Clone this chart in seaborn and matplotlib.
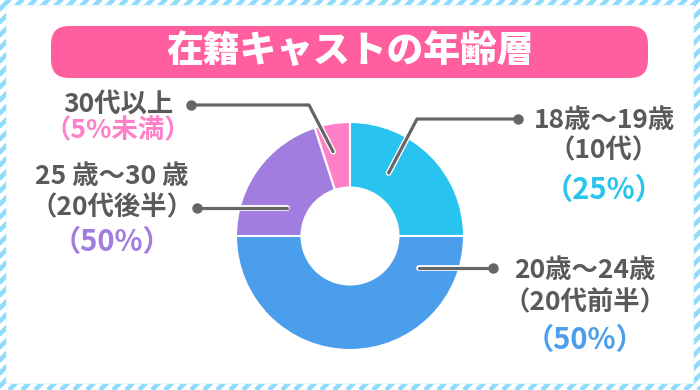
import matplotlib
matplotlib.use("Agg")
import matplotlib.pyplot as plt
import matplotlib.patheffects as pe
from matplotlib.patches import FancyBboxPatch, Rectangle
import numpy as np
import seaborn as sns

# ---- data ----
title = "在籍キャストの年齢層"
age_groups = ["18歳～19歳", "20歳～24歳", "25 歳～30 歳", "30代以上"]
sub_labels = ["（10代）", "（20代前半）", "（20代後半）", ""]
pct_labels = ["（25%）", "（50%）", "（50%）", "（5%未満）"]
shares = [25, 50, 20, 5]
colors = ["#29c3ef", "#4a9eec", "#a07ddf", "#ff80c8"]

sns.set_theme(style="white")
plt.rcParams["font.family"] = ["Noto Sans CJK JP", "DejaVu Sans"]

W, H = 700, 390
fig = plt.figure(figsize=(7, 3.9), dpi=100)
ax = fig.add_axes([0, 0, 1, 1])

# striped border background
stripe_col = "#8fdbfb"
ax.add_patch(Rectangle((0, 0), W, H, facecolor="white", edgecolor="none", zorder=0))
for c in np.arange(-420, 720, 13):
    ax.plot([c, c + 420], [0, 420], color=stripe_col, lw=3.3, solid_capstyle="butt", zorder=1)
ax.add_patch(Rectangle((6, 7), 687, 378, facecolor="white", edgecolor="#e8f6fd", lw=0.8, zorder=2))

# title banner
ax.add_patch(FancyBboxPatch((51 + 18, 312 + 18), 597 - 36, 52 - 36,
                            boxstyle="round,pad=18", facecolor="#ff5f9e",
                            edgecolor="none", zorder=3))
ax.text(350, 338, title, ha="center", va="center", fontsize=26.5, fontweight="heavy",
        color="white", zorder=4)

# donut
cx, cy, R, r_in = 350, 154, 114, 48.5
wedges, _ = ax.pie(shares, colors=colors, startangle=90, counterclock=False,
                   center=(cx, cy), radius=R,
                   wedgeprops=dict(width=R - r_in, edgecolor="white", linewidth=1.5),
                   frame=True)
for w in wedges:
    w.set_zorder(5)

# leader lines: anchor position inside each wedge (fraction of span, radius), elbow, dot
anchor_frac = [0.35, 0.14, 0.33, 0.37]
anchor_rad = [74, 76, 69, 86]
elbows = [(417, 271), None, None, (309, 285)]
dot_x = [518, 493, 197, 191]
line_col = "#666666"
for i, w in enumerate(wedges):
    t1, t2 = w.theta1, w.theta2
    ang = np.deg2rad(t2 - anchor_frac[i] * (t2 - t1))
    ax_ = cx + anchor_rad[i] * np.cos(ang)
    ay_ = cy + anchor_rad[i] * np.sin(ang)
    pts = [(ax_, ay_)]
    if elbows[i] is not None:
        pts.append(elbows[i])
        pts.append((dot_x[i], elbows[i][1]))
    else:
        pts.append((dot_x[i], ay_))
    xs, ys = zip(*pts)
    ax.plot(xs, ys, color=line_col, lw=2.3, solid_capstyle="round",
            solid_joinstyle="round", zorder=6,
            path_effects=[pe.Stroke(linewidth=4.2, foreground="white"), pe.Normal()])
    ax.plot([xs[-1]], [ys[-1]], "o", color=line_col, ms=6.5, zorder=7)

# labels
gray = "#5a5a5a"
fs, fs_pct, wt = 19, 21, "bold"
# right, top (18-19)
ax.text(604, 270, age_groups[0], ha="center", va="center", fontsize=fs, color=gray, fontweight=wt)
ax.text(604, 239, sub_labels[0], ha="center", va="center", fontsize=fs, color=gray, fontweight=wt)
ax.text(604, 200, pct_labels[0], ha="center", va="center", fontsize=fs_pct, color=colors[0], fontweight=wt)
# right, bottom (20-24)
ax.text(585, 120, age_groups[1], ha="center", va="center", fontsize=fs, color=gray, fontweight=wt)
ax.text(585, 87, sub_labels[1], ha="center", va="center", fontsize=fs, color=gray, fontweight=wt)
ax.text(585, 50, pct_labels[1], ha="center", va="center", fontsize=fs_pct, color=colors[1], fontweight=wt)
# left, lower (25-30)
ax.text(112, 213, age_groups[2], ha="center", va="center", fontsize=fs, color=gray, fontweight=wt)
ax.text(112, 182, sub_labels[2], ha="center", va="center", fontsize=fs, color=gray, fontweight=wt)
ax.text(112, 148, pct_labels[2], ha="center", va="center", fontsize=fs_pct, color=colors[2], fontweight=wt)
# left, upper (30+)
ax.text(118, 286, age_groups[3], ha="center", va="center", fontsize=fs, color=gray, fontweight=wt)
ax.text(118, 259, pct_labels[3], ha="center", va="center", fontsize=fs, color=colors[3], fontweight=wt)

ax.set_xlim(0, W)
ax.set_ylim(0, H)
ax.set_aspect("auto")
ax.set_axis_off()

fig.savefig("out.png", dpi=100)
